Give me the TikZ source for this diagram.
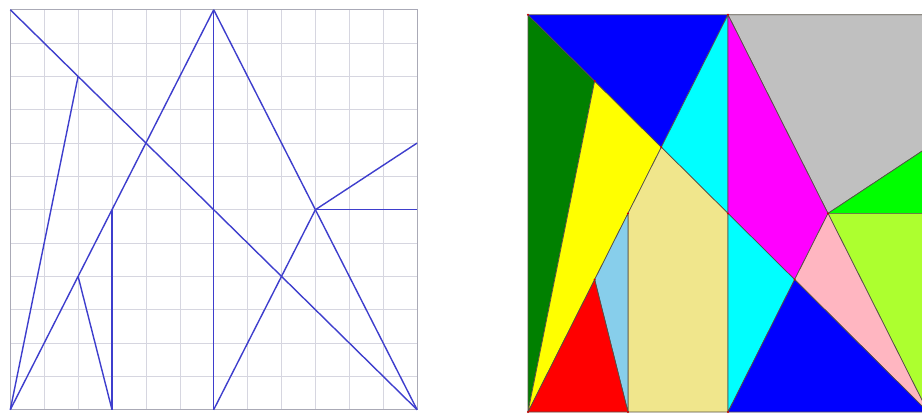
\documentclass[tikz,border=0pt]{standalone}
\definecolor{gridgray}{RGB}{214,214,224}
\definecolor{framegray}{RGB}{170,170,182}
\definecolor{segblue}{RGB}{62,62,205}
\definecolor{edgegray}{RGB}{85,80,70}
\definecolor{pgreen}{RGB}{0,128,0}
\definecolor{pyellow}{RGB}{255,255,0}
\definecolor{pblue}{RGB}{0,0,255}
\definecolor{pcyan}{RGB}{0,255,255}
\definecolor{pkhaki}{RGB}{240,230,140}
\definecolor{psky}{RGB}{135,206,235}
\definecolor{pred}{RGB}{255,0,0}
\definecolor{psilver}{RGB}{192,192,192}
\definecolor{pmagenta}{RGB}{255,0,255}
\definecolor{plime}{RGB}{0,255,0}
\definecolor{pgreenyellow}{RGB}{173,255,47}
\definecolor{ppink}{RGB}{255,182,193}
\tikzset{
	seg/.style={draw=segblue, line width=1.4pt},
	piece/.style={draw=edgegray, line width=0.7pt, line join=round},
}
\begin{document}
\begin{tikzpicture}[x=1pt, y=1pt]
	\clip (0,0) rectangle (922,413);
	\fill[white] (0,0) rectangle (922,413);
	\begin{scope}[shift={(10.3,3.3)}, x=33.9pt, y=33.33pt]
		\foreach \n/\px/\py in {o/0/0,a/0/12,b/12/0,c/2/10,e/6/12,f/6/0,h/9/6,k/12/8,m/12/6,p/2/4,q/3/0,r/3/6}{
			\coordinate (L\n) at (\px,\py);
		}
		\draw[gridgray, line width=0.6pt, step={(1,1)}] (0,0) grid (12,12);
		\draw[framegray, line width=0.8pt] (0,0) rectangle (12,12);
		\draw[seg] (La) -- (Lb);
		\draw[seg] (Lo) -- (Lc);
		\draw[seg] (Lo) -- (Le);
		\draw[seg] (Le) -- (Lf);
		\draw[seg] (Le) -- (Lb);
		\draw[seg] (Lf) -- (Lh);
		\draw[seg] (Lh) -- (Lk);
		\draw[seg] (Lh) -- (Lm);
		\draw[seg] (Lp) -- (Lq);
		\draw[seg] (Lq) -- (Lr);
	\end{scope}
	\begin{scope}[shift={(528,1)}, x=33.33pt, y=33.1pt]
		\foreach \n/\px/\py in {o/0/0,a/0/12,b/12/0,s/12/12,c/2/10,d/4/8,e/6/12,f/6/0,g/6/6,h/9/6,k/12/8,m/12/6,n/8/4,p/2/4,q/3/0,r/3/6}{
			\coordinate (R\n) at (\px,\py);
		}
		\foreach \col/\pts in {pgreen/{(Ra)--(Rc)--(Ro)},pyellow/{(Rc)--(Rd)--(Ro)},pblue/{(Ra)--(Re)--(Rd)},pcyan/{(Re)--(Rd)--(Rg)},pkhaki/{(Rd)--(Rg)--(Rf)--(Rq)--(Rr)},psky/{(Rr)--(Rp)--(Rq)},pred/{(Ro)--(Rp)--(Rq)},psilver/{(Re)--(Rs)--(Rk)--(Rh)},pmagenta/{(Re)--(Rh)--(Rn)--(Rg)},plime/{(Rh)--(Rk)--(Rm)},pgreenyellow/{(Rh)--(Rm)--(Rb)},ppink/{(Rh)--(Rb)--(Rn)},pcyan/{(Rg)--(Rn)--(Rf)},pblue/{(Rf)--(Rn)--(Rb)}}{
			\filldraw[piece, fill=\col] \pts -- cycle;
		}
		\foreach \v in {o,a,c,d,e,f,g,h,n,p,q,r}{
			\fill[pred!80!black] (R\v) circle (1.1pt);
		}
	\end{scope}
\end{tikzpicture}
\end{document}
